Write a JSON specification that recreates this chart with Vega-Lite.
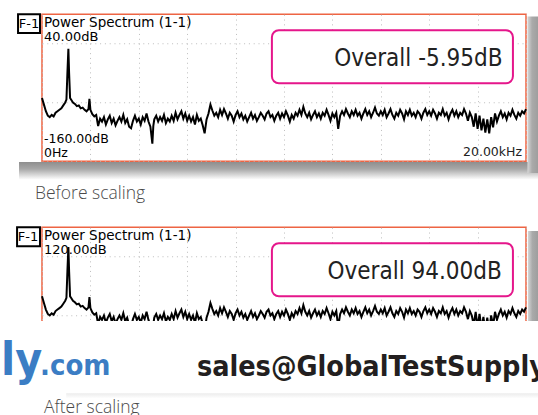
{
  "$schema": "https://vega.github.io/schema/vega-lite/v6.json",
  "background": "white",
  "padding": {"left": 0, "top": 12.25, "right": 0, "bottom": 0},
  "spacing": 66,
  "bounds": "flush",
  "config": {
    "view": {"stroke": "#ee6443", "strokeWidth": 1.5},
    "axis": {"grid": true, "labels": false, "ticks": false, "domain": false, "gridColor": "#bdbdbd", "gridDash": [1, 3.8], "gridWidth": 1}
  },
  "datasets": {
    "spectrum": [
      {"hz":0,"before":-74,"after":26},{"hz":80,"before":-83,"after":17},{"hz":160,"before":-92,"after":8},{"hz":240,"before":-98,"after":2},
      {"hz":320,"before":-100,"after":0},{"hz":400,"before":-97,"after":3},{"hz":480,"before":-99,"after":1},{"hz":560,"before":-94,"after":6},
      {"hz":640,"before":-92,"after":8},{"hz":720,"before":-90,"after":10},{"hz":800,"before":-88,"after":12},{"hz":880,"before":-84,"after":16},
      {"hz":960,"before":-80,"after":20},{"hz":1010,"before":-76,"after":24},{"hz":1050,"before":-40,"after":60},{"hz":1090,"before":-7,"after":93},
      {"hz":1120,"before":-40,"after":60},{"hz":1160,"before":-74,"after":26},{"hz":1200,"before":-76,"after":24},{"hz":1280,"before":-80,"after":20},
      {"hz":1360,"before":-82,"after":18},{"hz":1440,"before":-85,"after":15},{"hz":1520,"before":-84,"after":16},{"hz":1600,"before":-88,"after":12},
      {"hz":1680,"before":-87,"after":13},{"hz":1760,"before":-90,"after":10},{"hz":1840,"before":-92,"after":8},{"hz":1920,"before":-89,"after":11},
      {"hz":1960,"before":-75,"after":25},{"hz":2000,"before":-90,"after":10},{"hz":2080,"before":-96,"after":4},{"hz":2160,"before":-99,"after":1},
      {"hz":2240,"before":-97,"after":3},{"hz":2320,"before":-112,"after":-12},{"hz":2400,"before":-102,"after":-2},{"hz":2480,"before":-106,"after":-6},
      {"hz":2560,"before":-100,"after":0},{"hz":2640,"before":-110,"after":-10},{"hz":2720,"before":-103,"after":-3},{"hz":2800,"before":-98,"after":2},
      {"hz":2880,"before":-108,"after":-8},{"hz":2960,"before":-102,"after":-2},{"hz":3040,"before":-111,"after":-11},{"hz":3120,"before":-105,"after":-5},
      {"hz":3200,"before":-100,"after":0},{"hz":3280,"before":-106,"after":-6},{"hz":3360,"before":-97,"after":3},{"hz":3440,"before":-108,"after":-8},
      {"hz":3520,"before":-103,"after":-3},{"hz":3600,"before":-113,"after":-13},{"hz":3680,"before":-115,"after":-15},{"hz":3760,"before":-105,"after":-5},
      {"hz":3840,"before":-98,"after":2},{"hz":3920,"before":-106,"after":-6},{"hz":4000,"before":-102,"after":-2},{"hz":4080,"before":-110,"after":-10},
      {"hz":4160,"before":-100,"after":0},{"hz":4240,"before":-105,"after":-5},{"hz":4320,"before":-95,"after":5},{"hz":4400,"before":-106,"after":-6},
      {"hz":4480,"before":-113,"after":-13},{"hz":4560,"before":-136,"after":-36},{"hz":4600,"before":-112,"after":-12},{"hz":4640,"before":-103,"after":-3},
      {"hz":4720,"before":-98,"after":2},{"hz":4800,"before":-106,"after":-6},{"hz":4880,"before":-100,"after":0},{"hz":4960,"before":-105,"after":-5},
      {"hz":5040,"before":-97,"after":3},{"hz":5120,"before":-108,"after":-8},{"hz":5200,"before":-102,"after":-2},{"hz":5280,"before":-106,"after":-6},
      {"hz":5360,"before":-98,"after":2},{"hz":5440,"before":-105,"after":-5},{"hz":5520,"before":-94,"after":6},{"hz":5600,"before":-103,"after":-3},
      {"hz":5680,"before":-97,"after":3},{"hz":5760,"before":-92,"after":8},{"hz":5840,"before":-102,"after":-2},{"hz":5920,"before":-95,"after":5},
      {"hz":6000,"before":-105,"after":-5},{"hz":6080,"before":-98,"after":2},{"hz":6160,"before":-106,"after":-6},{"hz":6240,"before":-100,"after":0},
      {"hz":6320,"before":-110,"after":-10},{"hz":6400,"before":-97,"after":3},{"hz":6480,"before":-105,"after":-5},{"hz":6560,"before":-102,"after":-2},
      {"hz":6640,"before":-111,"after":-11},{"hz":6720,"before":-122,"after":-22},{"hz":6800,"before":-103,"after":-3},{"hz":6880,"before":-95,"after":5},
      {"hz":6960,"before":-83,"after":17},{"hz":7040,"before":-91,"after":9},{"hz":7120,"before":-98,"after":2},{"hz":7200,"before":-94,"after":6},
      {"hz":7280,"before":-100,"after":0},{"hz":7360,"before":-90,"after":10},{"hz":7440,"before":-97,"after":3},{"hz":7520,"before":-89,"after":11},
      {"hz":7600,"before":-95,"after":5},{"hz":7680,"before":-102,"after":-2},{"hz":7760,"before":-94,"after":6},{"hz":7840,"before":-98,"after":2},
      {"hz":7920,"before":-106,"after":-6},{"hz":8000,"before":-97,"after":3},{"hz":8080,"before":-92,"after":8},{"hz":8160,"before":-100,"after":0},
      {"hz":8240,"before":-95,"after":5},{"hz":8320,"before":-103,"after":-3},{"hz":8400,"before":-98,"after":2},{"hz":8480,"before":-106,"after":-6},
      {"hz":8560,"before":-100,"after":0},{"hz":8640,"before":-94,"after":6},{"hz":8720,"before":-102,"after":-2},{"hz":8800,"before":-97,"after":3},
      {"hz":8880,"before":-105,"after":-5},{"hz":8960,"before":-100,"after":0},{"hz":9040,"before":-94,"after":6},{"hz":9120,"before":-98,"after":2},
      {"hz":9200,"before":-103,"after":-3},{"hz":9280,"before":-95,"after":5},{"hz":9360,"before":-92,"after":8},{"hz":9440,"before":-100,"after":0},
      {"hz":9520,"before":-97,"after":3},{"hz":9600,"before":-105,"after":-5},{"hz":9680,"before":-98,"after":2},{"hz":9760,"before":-94,"after":6},
      {"hz":9840,"before":-102,"after":-2},{"hz":9920,"before":-95,"after":5},{"hz":10000,"before":-100,"after":0},{"hz":10080,"before":-92,"after":8},
      {"hz":10160,"before":-98,"after":2},{"hz":10240,"before":-106,"after":-6},{"hz":10320,"before":-97,"after":3},{"hz":10400,"before":-102,"after":-2},
      {"hz":10480,"before":-94,"after":6},{"hz":10560,"before":-98,"after":2},{"hz":10640,"before":-90,"after":10},{"hz":10720,"before":-97,"after":3},
      {"hz":10800,"before":-86,"after":14},{"hz":10880,"before":-95,"after":5},{"hz":10960,"before":-100,"after":0},{"hz":11040,"before":-94,"after":6},
      {"hz":11120,"before":-103,"after":-3},{"hz":11200,"before":-97,"after":3},{"hz":11280,"before":-92,"after":8},{"hz":11360,"before":-100,"after":0},
      {"hz":11440,"before":-95,"after":5},{"hz":11520,"before":-102,"after":-2},{"hz":11600,"before":-94,"after":6},{"hz":11680,"before":-98,"after":2},
      {"hz":11760,"before":-90,"after":10},{"hz":11840,"before":-97,"after":3},{"hz":11920,"before":-105,"after":-5},{"hz":12000,"before":-95,"after":5},
      {"hz":12080,"before":-100,"after":0},{"hz":12160,"before":-94,"after":6},{"hz":12240,"before":-116,"after":-16},{"hz":12320,"before":-98,"after":2},
      {"hz":12400,"before":-92,"after":8},{"hz":12480,"before":-97,"after":3},{"hz":12560,"before":-89,"after":11},{"hz":12640,"before":-95,"after":5},
      {"hz":12720,"before":-100,"after":0},{"hz":12800,"before":-92,"after":8},{"hz":12880,"before":-97,"after":3},{"hz":12960,"before":-90,"after":10},
      {"hz":13040,"before":-98,"after":2},{"hz":13120,"before":-94,"after":6},{"hz":13200,"before":-102,"after":-2},{"hz":13280,"before":-95,"after":5},
      {"hz":13360,"before":-89,"after":11},{"hz":13440,"before":-97,"after":3},{"hz":13520,"before":-92,"after":8},{"hz":13600,"before":-100,"after":0},
      {"hz":13680,"before":-94,"after":6},{"hz":13760,"before":-87,"after":13},{"hz":13840,"before":-95,"after":5},{"hz":13920,"before":-98,"after":2},
      {"hz":14000,"before":-92,"after":8},{"hz":14080,"before":-97,"after":3},{"hz":14160,"before":-90,"after":10},{"hz":14240,"before":-100,"after":0},
      {"hz":14320,"before":-95,"after":5},{"hz":14400,"before":-89,"after":11},{"hz":14480,"before":-97,"after":3},{"hz":14560,"before":-102,"after":-2},
      {"hz":14640,"before":-94,"after":6},{"hz":14720,"before":-98,"after":2},{"hz":14800,"before":-90,"after":10},{"hz":14880,"before":-95,"after":5},
      {"hz":14960,"before":-103,"after":-3},{"hz":15040,"before":-92,"after":8},{"hz":15120,"before":-97,"after":3},{"hz":15200,"before":-90,"after":10},
      {"hz":15280,"before":-98,"after":2},{"hz":15360,"before":-94,"after":6},{"hz":15440,"before":-100,"after":0},{"hz":15520,"before":-92,"after":8},
      {"hz":15600,"before":-95,"after":5},{"hz":15680,"before":-102,"after":-2},{"hz":15760,"before":-94,"after":6},{"hz":15840,"before":-89,"after":11},
      {"hz":15920,"before":-97,"after":3},{"hz":16000,"before":-92,"after":8},{"hz":16080,"before":-98,"after":2},{"hz":16160,"before":-90,"after":10},
      {"hz":16240,"before":-95,"after":5},{"hz":16320,"before":-102,"after":-2},{"hz":16400,"before":-94,"after":6},{"hz":16480,"before":-97,"after":3},
      {"hz":16560,"before":-89,"after":11},{"hz":16640,"before":-98,"after":2},{"hz":16720,"before":-94,"after":6},{"hz":16800,"before":-103,"after":-3},
      {"hz":16880,"before":-95,"after":5},{"hz":16960,"before":-90,"after":10},{"hz":17040,"before":-98,"after":2},{"hz":17120,"before":-92,"after":8},
      {"hz":17200,"before":-100,"after":0},{"hz":17280,"before":-94,"after":6},{"hz":17360,"before":-97,"after":3},{"hz":17440,"before":-89,"after":11},
      {"hz":17520,"before":-95,"after":5},{"hz":17600,"before":-105,"after":-5},{"hz":17680,"before":-94,"after":6},{"hz":17760,"before":-100,"after":0},
      {"hz":17840,"before":-113,"after":-13},{"hz":17920,"before":-95,"after":5},{"hz":18000,"before":-116,"after":-16},{"hz":18080,"before":-98,"after":2},
      {"hz":18160,"before":-118,"after":-18},{"hz":18240,"before":-102,"after":-2},{"hz":18320,"before":-121,"after":-21},{"hz":18400,"before":-103,"after":-3},
      {"hz":18480,"before":-122,"after":-22},{"hz":18560,"before":-100,"after":0},{"hz":18640,"before":-114,"after":-14},{"hz":18720,"before":-95,"after":5},
      {"hz":18800,"before":-106,"after":-6},{"hz":18880,"before":-98,"after":2},{"hz":18960,"before":-92,"after":8},{"hz":19040,"before":-100,"after":0},
      {"hz":19120,"before":-95,"after":5},{"hz":19200,"before":-103,"after":-3},{"hz":19280,"before":-94,"after":6},{"hz":19360,"before":-98,"after":2},
      {"hz":19440,"before":-90,"after":10},{"hz":19520,"before":-97,"after":3},{"hz":19600,"before":-102,"after":-2},{"hz":19680,"before":-94,"after":6},
      {"hz":19760,"before":-98,"after":2},{"hz":19840,"before":-92,"after":8},{"hz":19920,"before":-95,"after":5},{"hz":20000,"before":-89,"after":11}
    ]
  },
  "vconcat": [
    {
      "width": 484,
      "height": 147,
      "layer": [
        {
          "data": {"values": [{}]},
          "mark": {"type": "rect", "fill": {"gradient": "linear", "x1": 0, "y1": 0, "x2": 0, "y2": 1, "stops": [{"offset": 0, "color": "#8e8e8e"}, {"offset": 0.4, "color": "#a8a8a8"}, {"offset": 1, "color": "#ffffff"}]}},
          "encoding": {"x": {"datum": -950}, "x2": {"datum": 20537}, "y": {"datum": -161}, "y2": {"datum": -185}}
        },
        {
          "data": {"values": [{}]},
          "mark": {"type": "rect", "fill": {"gradient": "linear", "x1": 0, "y1": 0, "x2": 1, "y2": 0, "stops": [{"offset": 0, "color": "#d6d6d6"}, {"offset": 0.4, "color": "#aaaaaa"}, {"offset": 1, "color": "#9c9c9c"}]}},
          "encoding": {"x": {"datum": 20060}, "x2": {"datum": 20537}, "y": {"datum": 37}, "y2": {"datum": -176}}
        },
        {
          "data": {"name": "spectrum"},
          "mark": {"type": "line", "color": "black", "strokeWidth": 2},
          "encoding": {
            "x": {"field": "hz", "type": "quantitative", "scale": {"domain": [0, 20000], "nice": false, "zero": false}, "axis": {"title": null, "values": [0, 2000, 4000, 6000, 8000, 10000, 12000, 14000, 16000, 18000, 20000]}},
            "y": {"field": "before", "type": "quantitative", "scale": {"domain": [-160, 40], "nice": false, "zero": false}, "axis": {"title": null, "values": [-160, -140, -120, -100, -80, -60, -40, -20, 0, 20, 40]}}
          }
        },
        {
          "data": {"values": [{}]},
          "mark": {"type": "rect", "fill": "white", "stroke": "#e5168b", "strokeWidth": 2, "cornerRadius": 7},
          "encoding": {"x": {"datum": 9500}, "x2": {"datum": 19460}, "y": {"datum": 18.2}, "y2": {"datum": -53.9}}
        },
        {
          "data": {"values": [{}]},
          "mark": {"type": "text", "text": "Overall -5.95dB", "align": "right", "baseline": "alphabetic", "font": "DejaVu Sans Condensed", "fontSize": 24, "color": "#222222"},
          "encoding": {"x": {"datum": 19030}, "y": {"datum": -29.8}}
        },
        {
          "data": {"values": [{}]},
          "mark": {"type": "text", "text": "Power Spectrum  (1-1)", "align": "left", "baseline": "alphabetic", "dx": 2, "dy": 12.5, "font": "DejaVu Sans", "fontSize": 13.5, "color": "black"},
          "encoding": {"x": {"datum": 0}, "y": {"datum": 40}}
        },
        {
          "data": {"values": [{}]},
          "mark": {"type": "text", "text": "40.00dB", "align": "left", "baseline": "alphabetic", "dx": 2, "dy": 27, "font": "DejaVu Sans", "fontSize": 13, "color": "black"},
          "encoding": {"x": {"datum": 0}, "y": {"datum": 40}}
        },
        {
          "data": {"values": [{}]},
          "mark": {"type": "text", "text": "-160.00dB", "align": "left", "baseline": "alphabetic", "dx": 2, "dy": -18.3, "font": "DejaVu Sans", "fontSize": 12.5, "color": "black"},
          "encoding": {"x": {"datum": 0}, "y": {"datum": -160}}
        },
        {
          "data": {"values": [{}]},
          "mark": {"type": "text", "text": "0Hz", "align": "left", "baseline": "alphabetic", "dx": 2, "dy": -4, "font": "DejaVu Sans", "fontSize": 12.5, "color": "black"},
          "encoding": {"x": {"datum": 0}, "y": {"datum": -160}}
        },
        {
          "data": {"values": [{}]},
          "mark": {"type": "text", "text": "20.00kHz", "align": "right", "baseline": "alphabetic", "dx": -4, "dy": -5, "font": "DejaVu Sans", "fontSize": 12.5, "color": "#222222"},
          "encoding": {"x": {"datum": 20000}, "y": {"datum": -160}}
        },
        {
          "data": {"values": [{}]},
          "mark": {"type": "rect", "fill": "white", "stroke": "black", "strokeWidth": 2},
          "encoding": {"x": {"datum": -990}, "x2": {"datum": -83}, "y": {"datum": 40}, "y2": {"datum": 14.6}}
        },
        {
          "data": {"values": [{}]},
          "mark": {"type": "text", "text": "F-1", "align": "center", "baseline": "alphabetic", "dx": -13, "dy": 14, "font": "DejaVu Sans", "fontSize": 13, "color": "black"},
          "encoding": {"x": {"datum": 0}, "y": {"datum": 40}}
        },
        {
          "data": {"values": [{}]},
          "mark": {"type": "text", "text": "Before scaling", "align": "left", "baseline": "alphabetic", "dx": -7, "dy": 38, "font": "Open Sans", "fontWeight": 300, "fontSize": 17.5, "color": "#4a4a4a"},
          "encoding": {"x": {"datum": 0}, "y": {"datum": -160}}
        }
      ]
    },
    {
      "width": 484,
      "height": 147,
      "layer": [
        {
          "data": {"values": [{}]},
          "mark": {"type": "rect", "fill": {"gradient": "linear", "x1": 0, "y1": 0, "x2": 1, "y2": 0, "stops": [{"offset": 0, "color": "#d6d6d6"}, {"offset": 0.4, "color": "#aaaaaa"}, {"offset": 1, "color": "#9c9c9c"}]}},
          "encoding": {"x": {"datum": 20080}, "x2": {"datum": 20537}, "y": {"datum": 115}, "y2": {"datum": -80}}
        },
        {
          "data": {"name": "spectrum"},
          "mark": {"type": "line", "color": "black", "strokeWidth": 2},
          "encoding": {
            "x": {"field": "hz", "type": "quantitative", "scale": {"domain": [0, 20000], "nice": false, "zero": false}, "axis": {"title": null, "values": [0, 2000, 4000, 6000, 8000, 10000, 12000, 14000, 16000, 18000, 20000]}},
            "y": {"field": "after", "type": "quantitative", "scale": {"domain": [-80, 120], "nice": false, "zero": false}, "axis": {"title": null, "values": [-80, -60, -40, -20, 0, 20, 40, 60, 80, 100, 120]}}
          }
        },
        {
          "data": {"values": [{}]},
          "mark": {"type": "rect", "fill": "white", "stroke": "#e5168b", "strokeWidth": 2, "cornerRadius": 7},
          "encoding": {"x": {"datum": 9500}, "x2": {"datum": 19460}, "y": {"datum": 98.2}, "y2": {"datum": 26.1}}
        },
        {
          "data": {"values": [{}]},
          "mark": {"type": "text", "text": "Overall 94.00dB", "align": "right", "baseline": "alphabetic", "font": "DejaVu Sans Condensed", "fontSize": 24, "color": "#222222"},
          "encoding": {"x": {"datum": 19000}, "y": {"datum": 50.2}}
        },
        {
          "data": {"values": [{}]},
          "mark": {"type": "text", "text": "Power Spectrum  (1-1)", "align": "left", "baseline": "alphabetic", "dx": 2, "dy": 13, "font": "DejaVu Sans", "fontSize": 13.5, "color": "black"},
          "encoding": {"x": {"datum": 0}, "y": {"datum": 120}}
        },
        {
          "data": {"values": [{}]},
          "mark": {"type": "text", "text": "120.00dB", "align": "left", "baseline": "alphabetic", "dx": 2, "dy": 26.7, "font": "DejaVu Sans", "fontSize": 13, "color": "black"},
          "encoding": {"x": {"datum": 0}, "y": {"datum": 120}}
        },
        {
          "data": {"values": [{}]},
          "mark": {"type": "rect", "fill": "white", "stroke": "black", "strokeWidth": 2},
          "encoding": {"x": {"datum": -1030}, "x2": {"datum": -83}, "y": {"datum": 120}, "y2": {"datum": 94.2}}
        },
        {
          "data": {"values": [{}]},
          "mark": {"type": "text", "text": "F-1", "align": "center", "baseline": "alphabetic", "dx": -14, "dy": 14, "font": "DejaVu Sans", "fontSize": 13, "color": "black"},
          "encoding": {"x": {"datum": 0}, "y": {"datum": 120}}
        },
        {
          "data": {"values": [{}]},
          "mark": {"type": "rect", "fill": "white"},
          "encoding": {"x": {"datum": -1694}, "x2": {"datum": 20537}, "y": {"datum": -7.5}, "y2": {"datum": -105.8}}
        },
        {
          "data": {"values": [{}]},
          "mark": {"type": "rect", "fill": {"gradient": "linear", "x1": 0, "y1": 0, "x2": 0, "y2": 1, "stops": [{"offset": 0, "color": "#ececec"}, {"offset": 1, "color": "#ffffff"}]}},
          "encoding": {"x": {"datum": 1000}, "x2": {"datum": 20537}, "y": {"datum": -105.8}, "y2": {"datum": -113}}
        },
        {
          "data": {"values": [{}]},
          "mark": {"type": "text", "text": "ly", "align": "left", "baseline": "alphabetic", "dy": 0.5, "font": "DejaVu Sans Condensed", "fontWeight": "bold", "fontSize": 46, "color": "#3b7dc4"},
          "encoding": {"x": {"datum": -1694}, "y": {"datum": -80}}
        },
        {
          "data": {"values": [{}]},
          "mark": {"type": "text", "text": ".com", "align": "left", "baseline": "alphabetic", "dx": -2, "dy": 0.5, "font": "DejaVu Sans Condensed", "fontWeight": "bold", "fontSize": 29, "color": "#3b7dc4"},
          "encoding": {"x": {"datum": 0}, "y": {"datum": -80}}
        },
        {
          "data": {"values": [{}]},
          "mark": {"type": "text", "text": "sales@GlobalTestSupply", "align": "left", "baseline": "alphabetic", "dy": 2, "font": "DejaVu Sans Condensed", "fontWeight": "bold", "fontSize": 28.5, "color": "#231f20"},
          "encoding": {"x": {"datum": 6400}, "y": {"datum": -80}}
        },
        {
          "data": {"values": [{}]},
          "mark": {"type": "text", "text": "After scaling", "align": "left", "baseline": "alphabetic", "dx": 2, "dy": 38.5, "font": "Open Sans", "fontWeight": 300, "fontSize": 17.5, "color": "#4a4a4a"},
          "encoding": {"x": {"datum": 0}, "y": {"datum": -80}}
        }
      ]
    }
  ]
}
